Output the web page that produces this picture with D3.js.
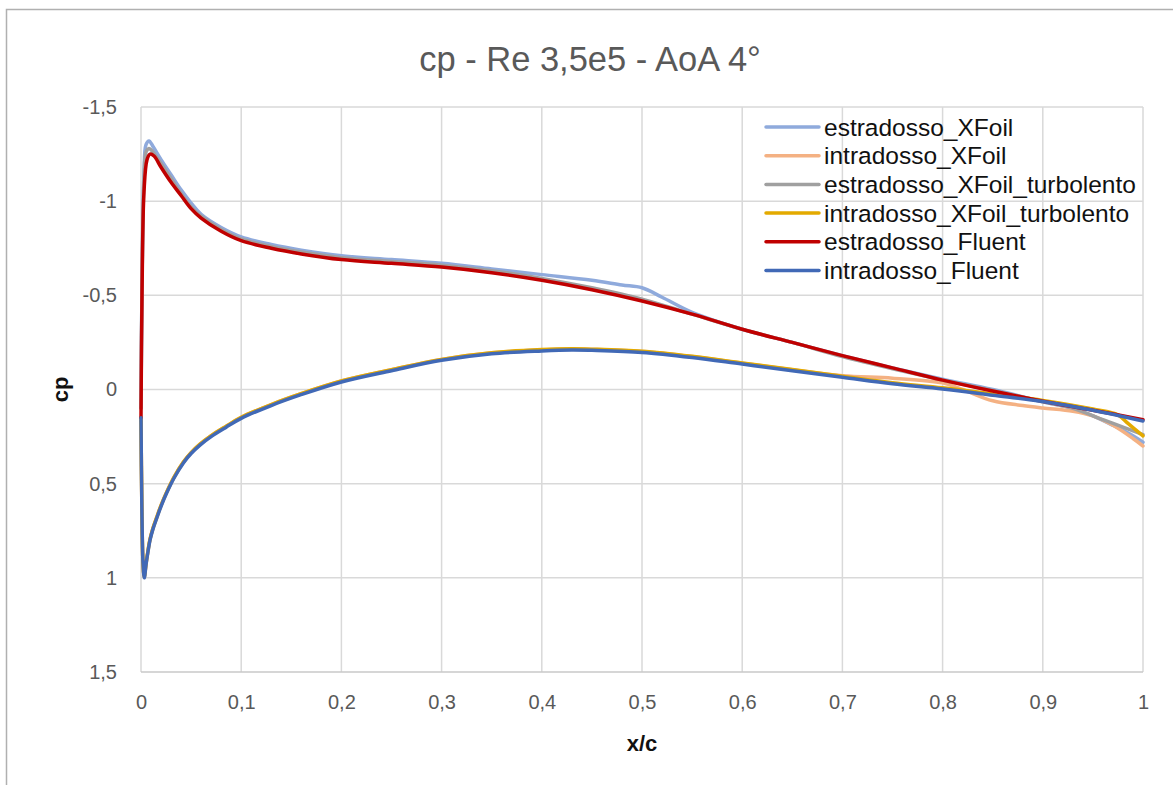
<!DOCTYPE html>
<html>
<head>
<meta charset="utf-8">
<script src="https://cdn.jsdelivr.net/npm/d3@7"></script>
<style>
  body { margin: 0; background: #fff; }
  text { font-family: "Liberation Sans", Arial, sans-serif; }
</style>
</head>
<body>
<svg id="chart" width="1173" height="785"></svg>
<script>
// Series names (legend order)
const seriesNames = ["estradosso_XFoil", "intradosso_XFoil", "estradosso_XFoil_turbolento",
                     "intradosso_XFoil_turbolento", "estradosso_Fluent", "intradosso_Fluent"];
const seriesColors = ["#8FAADC", "#F4B183", "#A0A0A0", "#E3AA00", "#C00000", "#4169B6"];

// Tick values
const xTicks = [0, 0.1, 0.2, 0.3, 0.4, 0.5, 0.6, 0.7, 0.8, 0.9, 1];
const yTicks = [-1.5, -1, -0.5, 0, 0.5, 1, 1.5];

// estradosso_XFoil
const estXfoilX  = [0, 0.001, 0.003, 0.005, 0.008, 0.012, 0.02, 0.03, 0.04, 0.05, 0.06, 0.08, 0.1, 0.13, 0.16, 0.2, 0.25, 0.3, 0.35, 0.4, 0.45, 0.48, 0.5, 0.52, 0.55, 0.6, 0.65, 0.7, 0.75, 0.8, 0.85, 0.9, 0.93, 0.95, 0.97, 0.99, 1.0];
const estXfoilCp = [0.1, -0.55, -1.15, -1.3, -1.32, -1.29, -1.22, -1.14, -1.06, -0.99, -0.93, -0.86, -0.81, -0.77, -0.74, -0.71, -0.69, -0.67, -0.64, -0.61, -0.58, -0.555, -0.54, -0.49, -0.41, -0.32, -0.25, -0.18, -0.115, -0.055, 0.0, 0.065, 0.1, 0.14, 0.19, 0.245, 0.28];

// intradosso_XFoil
const intXfoilX  = [0, 0.0008, 0.002, 0.0033, 0.005, 0.007, 0.009, 0.012, 0.0156, 0.02, 0.0256, 0.033, 0.0423, 0.05, 0.0589, 0.07, 0.085, 0.1, 0.13, 0.159, 0.2, 0.25, 0.3, 0.35, 0.4, 0.43, 0.45, 0.5, 0.55, 0.6, 0.65, 0.7, 0.75, 0.8, 0.82, 0.85, 0.88, 0.9, 0.93, 0.95, 0.97, 0.99, 1.0];
const intXfoilCp = [0.15, 0.6, 0.92, 0.995, 0.925, 0.855, 0.795, 0.735, 0.68, 0.615, 0.545, 0.465, 0.385, 0.335, 0.29, 0.245, 0.195, 0.148, 0.08, 0.024, -0.045, -0.105, -0.16, -0.195, -0.21, -0.215, -0.213, -0.202, -0.175, -0.14, -0.105, -0.073, -0.06, -0.035, 0.0, 0.06, 0.085, 0.098, 0.115, 0.14, 0.19, 0.26, 0.3];

// estradosso_XFoil_turbolento
const estTurbX  = [0, 0.001, 0.003, 0.005, 0.008, 0.012, 0.02, 0.03, 0.04, 0.05, 0.06, 0.08, 0.1, 0.13, 0.16, 0.2, 0.25, 0.3, 0.35, 0.4, 0.45, 0.5, 0.55, 0.6, 0.65, 0.7, 0.75, 0.8, 0.85, 0.9, 0.93, 0.96, 0.98, 1.0];
const estTurbCp = [0.1, -0.55, -1.12, -1.26, -1.28, -1.26, -1.2, -1.12, -1.04, -0.97, -0.92, -0.85, -0.80, -0.76, -0.73, -0.70, -0.68, -0.66, -0.63, -0.59, -0.54, -0.48, -0.40, -0.32, -0.25, -0.175, -0.11, -0.05, 0.005, 0.065, 0.1, 0.16, 0.2, 0.24];

// intradosso_XFoil_turbolento
const intTurbX  = [0, 0.0008, 0.002, 0.0033, 0.005, 0.007, 0.009, 0.012, 0.0156, 0.02, 0.0256, 0.033, 0.0423, 0.05, 0.0589, 0.07, 0.085, 0.1, 0.13, 0.159, 0.2, 0.25, 0.3, 0.35, 0.4, 0.43, 0.45, 0.5, 0.55, 0.6, 0.65, 0.7, 0.75, 0.8, 0.85, 0.9, 0.95, 0.975, 0.985, 1.0];
const intTurbCp = [0.15, 0.6, 0.92, 0.995, 0.925, 0.855, 0.795, 0.735, 0.68, 0.615, 0.545, 0.465, 0.385, 0.335, 0.29, 0.245, 0.195, 0.148, 0.08, 0.024, -0.045, -0.105, -0.16, -0.195, -0.212, -0.216, -0.214, -0.203, -0.176, -0.141, -0.106, -0.071, -0.036, -0.009, 0.024, 0.058, 0.104, 0.135, 0.18, 0.246];

// estradosso_Fluent
const estFluentX  = [0, 0.001, 0.003, 0.006, 0.009, 0.013, 0.02, 0.03, 0.04, 0.05, 0.06, 0.08, 0.1, 0.13, 0.16, 0.2, 0.25, 0.3, 0.35, 0.4, 0.45, 0.5, 0.55, 0.6, 0.65, 0.7, 0.75, 0.8, 0.85, 0.9, 0.95, 1.0];
const estFluentCp = [0.15, -0.5, -1.05, -1.22, -1.25, -1.24, -1.18, -1.10, -1.03, -0.96, -0.91, -0.84, -0.79, -0.75, -0.72, -0.69, -0.67, -0.65, -0.62, -0.58, -0.53, -0.47, -0.40, -0.32, -0.25, -0.18, -0.115, -0.05, 0.008, 0.062, 0.11, 0.16];

// intradosso_Fluent
const intFluentX  = [0, 0.0008, 0.002, 0.0033, 0.005, 0.007, 0.009, 0.012, 0.0156, 0.02, 0.0256, 0.033, 0.0423, 0.05, 0.0589, 0.07, 0.085, 0.1, 0.13, 0.159, 0.2, 0.25, 0.3, 0.35, 0.4, 0.43, 0.45, 0.5, 0.55, 0.6, 0.65, 0.7, 0.75, 0.8, 0.85, 0.9, 0.95, 1.0];
const intFluentCp = [0.15, 0.6, 0.92, 1.0, 0.93, 0.86, 0.80, 0.74, 0.685, 0.62, 0.55, 0.47, 0.39, 0.34, 0.295, 0.25, 0.2, 0.153, 0.085, 0.029, -0.04, -0.1, -0.155, -0.19, -0.205, -0.21, -0.208, -0.197, -0.17, -0.135, -0.1, -0.065, -0.03, -0.003, 0.03, 0.064, 0.11, 0.167];

const seriesX  = [estXfoilX, intXfoilX, estTurbX, intTurbX, estFluentX, intFluentX];
const seriesCp = [estXfoilCp, intXfoilCp, estTurbCp, intTurbCp, estFluentCp, intFluentCp];

const series = seriesNames.map((name, i) => ({
    name: name,
    color: seriesColors[i],
    values: seriesX[i].map((x, j) => ({ x: x, cp: seriesCp[i][j] }))
}));

const svg = d3.select("#chart");

// outer chart border
svg.append("rect")
    .attr("x", 6.5).attr("y", 9.5)
    .attr("width", 1180).attr("height", 800)
    .attr("fill", "none")
    .attr("stroke", "#B0B0B0")
    .attr("stroke-width", 1.5);

// Set up scale
const x = d3.scaleLinear().domain([0, 1]).range([141, 1143]);
const y = d3.scaleLinear().domain([-1.5, 1.5]).range([107, 672]);

// gridlines
svg.append("g")
    .selectAll("line.v")
    .data(xTicks)
    .enter()
    .append("line")
    .attr("x1", d => x(d)).attr("x2", d => x(d))
    .attr("y1", y(-1.5)).attr("y2", y(1.5))
    .attr("stroke", "#D9D9D9")
    .attr("stroke-width", 1.5);

svg.append("g")
    .selectAll("line.h")
    .data(yTicks)
    .enter()
    .append("line")
    .attr("x1", x(0)).attr("x2", x(1))
    .attr("y1", d => y(d)).attr("y2", d => y(d))
    .attr("stroke", d => d === 1.5 ? "#C8C8C8" : "#D9D9D9")
    .attr("stroke-width", 1.5);

// Create x axis
const fmt = d => String(d).replace(".", ",");
svg.append("g")
    .attr("transform", "translate(0," + y(1.5) + ")")
    .call(d3.axisBottom(x).tickValues(xTicks).tickFormat(fmt).tickSize(0).tickPadding(23))
    .call(g => g.select(".domain").remove())
    .selectAll("text")
    .attr("font-size", "20px")
    .attr("fill", "#595959")
    .style("font-family", "'Liberation Sans', Arial, sans-serif");

// Create y axis
svg.append("g")
    .attr("transform", "translate(" + x(0) + ",0)")
    .call(d3.axisLeft(y).tickValues(yTicks).tickFormat(fmt).tickSize(0).tickPadding(24))
    .call(g => g.select(".domain").remove())
    .selectAll("text")
    .attr("font-size", "20px")
    .attr("fill", "#595959")
    .style("font-family", "'Liberation Sans', Arial, sans-serif");

// lines
const line = d3.line()
    .x(d => x(d.x))
    .y(d => y(d.cp))
    .curve(d3.curveCatmullRom.alpha(0.5));

svg.append("g")
    .selectAll("path")
    .data(series)
    .enter()
    .append("path")
    .attr("d", d => line(d.values))
    .attr("fill", "none")
    .attr("stroke", d => d.color)
    .attr("stroke-width", 3.5)
    .attr("stroke-linejoin", "round")
    .attr("stroke-linecap", "round");

// Title
svg.append("text")
    .attr("x", 590).attr("y", 71)
    .attr("text-anchor", "middle")
    .attr("font-size", "34.5px")
    .attr("fill", "#595959")
    .text("cp - Re 3,5e5 - AoA 4°");

// Axis titles
svg.append("text")
    .attr("x", 642).attr("y", 751)
    .attr("text-anchor", "middle")
    .attr("font-size", "22px")
    .attr("font-weight", "bold")
    .attr("fill", "#111")
    .text("x/c");

svg.append("text")
    .attr("transform", "translate(68," + y(0) + ") rotate(-90)")
    .attr("text-anchor", "middle")
    .attr("font-size", "22px")
    .attr("font-weight", "bold")
    .attr("fill", "#111")
    .text("cp");

// Legend
const legend = svg.append("g")
    .selectAll("g")
    .data(series)
    .enter()
    .append("g")
    .attr("transform", (d, i) => "translate(766," + (127 + i * 28.7) + ")");

legend.append("line")
    .attr("x1", 0).attr("x2", 53)
    .attr("stroke", d => d.color)
    .attr("stroke-width", 3.5)
    .attr("stroke-linecap", "round");

legend.append("text")
    .attr("x", 58).attr("dy", "0.35em")
    .attr("font-size", "24.5px")
    .attr("fill", "#111")
    .text(d => d.name);
</script>
</body>
</html>
